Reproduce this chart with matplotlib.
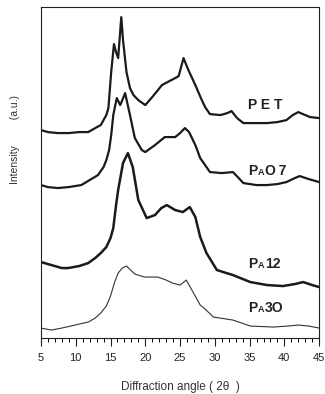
import matplotlib
matplotlib.use("Agg")
import matplotlib.pyplot as plt
from matplotlib.ticker import MultipleLocator

plt.rcParams['font.family'] = ['Liberation Sans', 'DejaVu Sans']

# diffraction angle (2 theta) and intensity (a.u., curves already offset)
pet_x = [5.0, 6.0, 7.4, 9.0, 10.5, 11.8, 12.8, 13.6, 14.4, 14.7, 15.1, 15.5, 15.8, 16.1,
         16.3, 16.55, 16.8, 17.3, 17.8, 18.3, 19.0, 20.0, 21.0, 22.4, 23.2, 24.3, 24.8,
         25.5, 26.2, 27.2, 28.0, 28.6, 29.3, 30.8, 31.8, 32.4, 33.2, 34.1, 36.0, 37.5,
         39.0, 40.3, 41.2, 42.0, 43.0, 43.7, 45.0]
pet_y = [208, 206, 205, 205, 206, 206, 210, 213, 223, 230, 266, 294, 286, 280,
         298, 321, 298, 266, 250, 243, 238, 233, 241, 253, 256, 260, 262,
         280, 268, 253, 240, 231, 224, 223, 225, 227, 220, 215, 215, 215,
         216, 218, 223, 226, 223, 221, 220]

pao7_x = [5.0, 6.0, 7.4, 9.0, 10.8, 12.0, 13.2, 14.0, 14.4, 14.8, 15.1, 15.4, 15.9, 16.4,
          16.7, 17.1, 17.8, 18.5, 19.5, 20.0, 21.4, 22.8, 24.3, 25.0, 25.7, 26.3, 27.2,
          27.9, 28.6, 29.3, 31.0, 32.6, 33.3, 34.1, 36.0, 37.5, 39.0, 40.3, 41.5, 42.2,
          43.5, 45.0]
pao7_y = [153, 151, 150, 151, 153, 158, 163, 171, 178, 188, 203, 223, 240, 233,
          238, 245, 223, 200, 188, 186, 193, 201, 201, 205, 210, 206, 193,
          180, 173, 166, 165, 166, 161, 155, 153, 153, 154, 156, 160, 162,
          159, 156]

pa12_x = [5.0, 6.5, 8.0, 8.9, 10.5, 11.8, 12.8, 13.6, 14.4, 15.0, 15.4, 15.8, 16.1, 16.8,
          17.5, 18.2, 19.0, 20.2, 21.4, 22.3, 23.1, 24.3, 25.4, 26.4, 27.2, 27.9, 28.8,
          30.3, 32.6, 35.1, 37.5, 39.8, 41.5, 42.7, 44.0, 45.0]
pa12_y = [76, 73, 70, 70, 72, 75, 80, 85, 91, 100, 110, 133, 148, 175,
          185, 171, 138, 120, 123, 130, 133, 128, 126, 131, 121, 101, 85,
          68, 63, 56, 53, 52, 54, 56, 53, 51]

pa30_x = [5.0, 6.5, 8.0, 9.3, 10.5, 11.8, 12.8, 13.6, 14.4, 15.0, 15.6, 16.1, 16.7, 17.3,
          17.9, 18.5, 19.9, 21.8, 23.0, 23.9, 25.0, 25.9, 26.7, 27.9, 28.6, 29.8, 32.6,
          35.1, 38.4, 40.5, 42.0, 43.5, 45.0]
pa30_y = [10, 8, 10, 12, 14, 16, 20, 25, 32, 42, 56, 65, 70, 72,
          68, 64, 61, 61, 58, 55, 53, 58, 48, 33, 29, 21, 18,
          12, 11, 12, 13, 12, 10]

fig = plt.figure(figsize=(3.25, 3.94), dpi=100)
ax = fig.add_axes([0.126, 0.142, 0.856, 0.840])

ax.plot(pet_x, pet_y, color='#1a1a1a', lw=1.6)
ax.plot(pao7_x, pao7_y, color='#1a1a1a', lw=1.6)
ax.plot(pa12_x, pa12_y, color='#1a1a1a', lw=1.8)
ax.plot(pa30_x, pa30_y, color='#333333', lw=0.8)

ink = '#222222'
ax.annotate('P E T', xy=(34.8, 229), fontsize=10, fontweight='bold', color=ink,
            va='baseline', ha='left')


def sample_label(y, rest):
    ax.annotate('P', xy=(34.8, y), fontsize=10, fontweight='bold', color=ink,
                va='baseline', ha='left')
    ax.annotate('A', xy=(34.8, y), xytext=(6.9, 0), textcoords='offset points',
                fontsize=6.5, fontweight='bold', color=ink, va='baseline', ha='left')
    ax.annotate(rest, xy=(34.8, y), xytext=(11.9, 0), textcoords='offset points',
                fontsize=10, fontweight='bold', color=ink, va='baseline', ha='left')


sample_label(163, 'O\u20097')
sample_label(70, '12')
sample_label(26, '3O')

ax.set_xlim(5, 45)
ax.set_ylim(0, 331)
ax.xaxis.set_major_locator(MultipleLocator(5))
ax.xaxis.set_minor_locator(MultipleLocator(1))
ax.tick_params(axis='x', which='major', direction='out', length=6, width=0.8,
               labelsize=8, colors=ink, pad=5)
ax.tick_params(axis='x', which='minor', direction='out', length=3, width=0.7)
ax.set_yticks([])
for s in ax.spines.values():
    s.set_linewidth(0.8)
    s.set_color(ink)

ax.set_xlabel('Diffraction angle ( 2\u03b8  )', fontsize=8.5, color='#333333', labelpad=13)
fig.text(0.046, 0.645, 'Intensity         (a.u.)', rotation=90, fontsize=7.5,
         color='#333333', ha='center', va='center')

fig.savefig('out.png', dpi=100)
